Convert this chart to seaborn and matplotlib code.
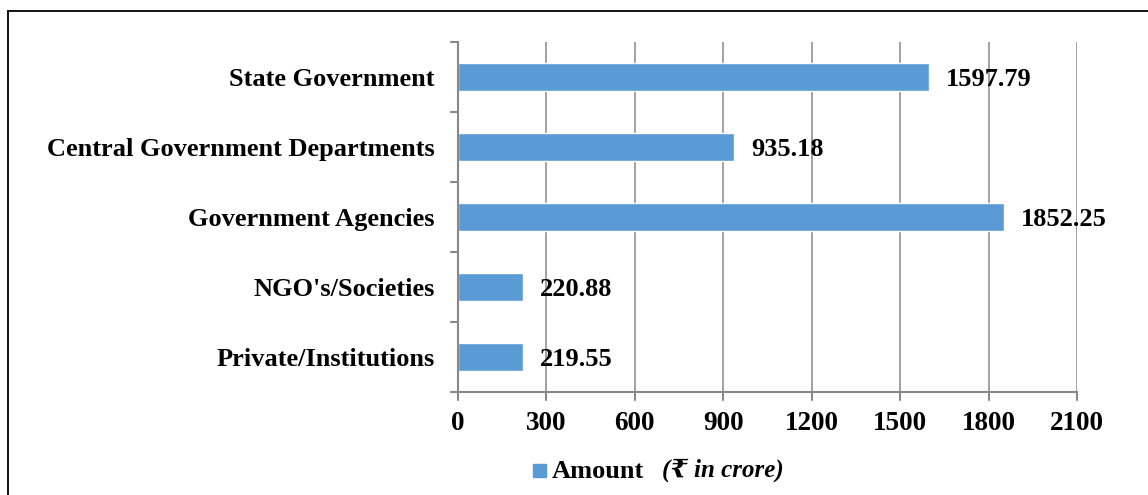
import matplotlib
matplotlib.use('Agg')
from matplotlib import pyplot as plt
from matplotlib.lines import Line2D
from matplotlib.patches import Rectangle
import seaborn as sns
import pandas as pd

categories = ['State Government', 'Central Government Departments', 'Government Agencies',
              "NGO's/Societies", 'Private/Institutions']
amounts = [1597.79, 935.18, 1852.25, 220.88, 219.55]
x_ticks = [0, 300, 600, 900, 1200, 1500, 1800, 2100]

sns.set_style('white')
plt.rcParams['font.family'] = ['Liberation Serif', 'DejaVu Serif', 'DejaVu Sans']
plt.rcParams['font.weight'] = 'bold'
plt.rcParams['text.color'] = 'black'
plt.rcParams['xtick.labelcolor'] = 'black'
plt.rcParams['ytick.labelcolor'] = 'black'

df = pd.DataFrame({'category': categories, 'amount': amounts})

fig = plt.figure(figsize=(11.48, 4.95), dpi=100)
ax = fig.add_axes([458 / 1148, 1 - 392 / 495, (1077 - 458) / 1148, 350 / 495])

sns.barplot(data=df, x='amount', y='category', orient='h', color='#5B9BD5',
            width=0.39, saturation=1, ax=ax)

ax.set_xlim(0, 2100)
ax.set_ylim(4.5, -0.5)
ax.set_xticks(x_ticks)
ax.set_xticklabels([str(t) for t in x_ticks], fontsize=19.5, fontweight='bold', color='black')
ax.set_yticks(range(len(categories)))
ax.set_yticklabels(categories, fontsize=19, fontweight='bold', color='black')
ax.tick_params(axis='y', length=0, pad=17)
ax.tick_params(axis='x', length=0, pad=14)
ax.set_xlabel('')
ax.set_ylabel('')
ax.set_axisbelow(True)
ax.grid(axis='x', color='#9a9a9a', linewidth=1.3)

for side in ['top', 'right']:
    ax.spines[side].set_visible(False)
for side in ['left', 'bottom']:
    ax.spines[side].set_color('#888888')
    ax.spines[side].set_linewidth(1.5)

# category boundary ticks on the y axis and outward ticks on x
for b in [-0.5, 0.5, 1.5, 2.5, 3.5, 4.5]:
    ax.plot([-0.012, 0], [b, b], transform=ax.get_yaxis_transform(), color='#888888',
            lw=1.5, clip_on=False)
for t in x_ticks:
    ax.plot([t, t], [0, -0.022], transform=ax.get_xaxis_transform(), color='#888888',
            lw=1.5, clip_on=False)

for i, v in enumerate(amounts):
    ax.text(v + 58, i + 0.03, f'{v:.2f}', va='center', ha='left', fontsize=19,
            fontweight='bold', color='black')

# legend
fig.patches.append(Rectangle((533 / 1148, 1 - 477 / 495), 13 / 1148, 13 / 495,
                             transform=fig.transFigure, color='#5B9BD5'))
fig.text(552 / 1148, 1 - 471 / 495, 'Amount', fontsize=19, fontweight='bold', va='center')
fig.text(662 / 1148, 1 - 470 / 495, '(₹ in crore)', fontsize=18, fontweight='bold',
         style='italic', va='center')

# outer frame
fig.lines.append(Line2D([8 / 1148, 8 / 1148], [0, 1 - 11 / 495], transform=fig.transFigure,
                        color='black', lw=1.3))
fig.lines.append(Line2D([8 / 1148, 1], [1 - 11 / 495, 1 - 11 / 495], transform=fig.transFigure,
                        color='black', lw=1.3))

fig.savefig('out.png', dpi=100)
